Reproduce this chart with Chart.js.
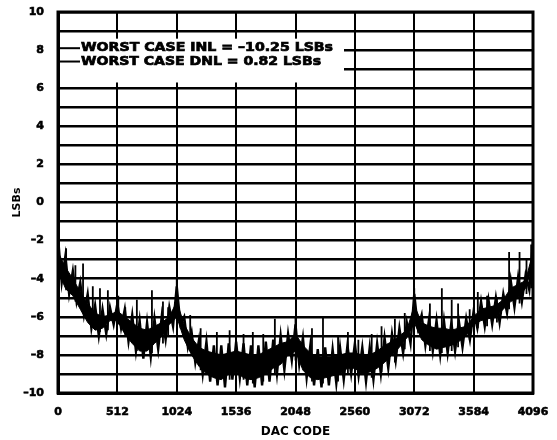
<!DOCTYPE html>
<html>
<head>
<meta charset="utf-8">
<script src="https://cdn.jsdelivr.net/npm/chart.js@4.4.1/dist/chart.umd.min.js"></script>
<style>
  body { margin: 0; background: #fff; }
  canvas { display: block; }
</style>
</head>
<body>
<canvas id="inl-chart" width="557" height="440"></canvas>
<script>
// INL readings, one every 32 codes, alternating top / bottom of the noise band
const codeStep = 32;
const inl = [
  -1.8, -4.2, -2.8, -4.8, -3.6, -5.2, -4.2, -5.9, -4.8, -6.6, -5.4, -7.0, -5.6, -6.9, -5.5, -6.4,
  -5.3, -6.6, -5.6, -7.3, -5.9, -7.8, -6.2, -8.2, -6.3, -8.1, -6.1, -7.7, -5.9, -7.2, -5.5, -6.5,
  -4.4, -6.4, -6.0, -7.6, -6.8, -8.4, -7.2, -9.0, -7.3, -9.4, -7.5, -9.6, -7.5, -9.7, -7.4, -9.3,
  -7.3, -9.2, -7.4, -9.6, -7.5, -9.7, -7.5, -9.6, -7.3, -9.4, -7.2, -9.0, -7.0, -8.8, -6.9, -8.3,
  -6.4, -8.5, -7.1, -9.2, -7.5, -9.6, -7.7, -9.7, -7.6, -9.6, -7.7, -9.5, -7.6, -9.3, -7.5, -9.0,
  -7.4, -9.1, -7.6, -9.4, -7.6, -9.3, -7.4, -9.0, -7.1, -8.7, -6.9, -8.3, -6.6, -7.9, -6.3, -7.4,
  -4.8, -6.6, -5.9, -7.5, -6.1, -7.8, -6.2, -8.0, -6.2, -7.9, -6.3, -7.8, -6.2, -7.6, -6.1, -7.2,
  -5.7, -6.6, -5.2, -6.5, -5.1, -6.4, -5.0, -6.3, -4.8, -5.8, -4.1, -5.5, -3.9, -5.2, -3.8, -4.6,
  -2.0
];
const codes = inl.map((_, i) => i * codeStep);

// solid core of the noise band, one reading every 64 codes
const bandStep = 64;
const bandHi = [
  -2.6, -3.4, -4.0, -4.7, -5.3, -5.8, -6.0, -5.9, -5.7, -6.0, -6.3, -6.6, -6.7, -6.5, -6.3, -6.0,
  -5.2, -6.4, -7.1, -7.6, -7.8, -7.9, -8.0, -7.9, -7.8, -7.9, -8.0, -8.0, -7.8, -7.6, -7.4, -7.3,
  -6.9, -7.5, -7.9, -8.1, -8.1, -8.1, -8.0, -7.9, -7.9, -8.0, -8.0, -7.8, -7.5, -7.3, -7.0, -6.7,
  -5.4, -6.3, -6.5, -6.6, -6.6, -6.7, -6.6, -6.5, -6.0, -5.6, -5.5, -5.4, -5.1, -4.5, -4.3, -4.1,
  -2.6
];
const bandLo = [
  -3.6, -4.5, -4.9, -5.6, -6.3, -6.7, -6.6, -6.2, -6.2, -6.9, -7.4, -7.8, -7.8, -7.4, -7.0, -6.4,
  -6.0, -7.2, -8.0, -8.6, -9.0, -9.2, -9.3, -9.0, -8.9, -9.2, -9.3, -9.2, -9.0, -8.7, -8.5, -8.0,
  -7.8, -8.8, -9.2, -9.3, -9.2, -9.1, -9.0, -8.7, -8.7, -9.0, -8.9, -8.7, -8.4, -8.0, -7.6, -7.1,
  -6.3, -7.2, -7.5, -7.7, -7.6, -7.5, -7.3, -7.0, -6.4, -6.2, -6.1, -6.0, -5.6, -5.2, -5.0, -4.5,
  -3.2
];

// tall glitches sticking out of the band
const spikeCodes = [70, 150, 216, 300, 362, 430, 520, 580, 680, 810, 905, 950, 1024, 1140, 1230,
  1370, 1480, 1600, 1680, 1770, 1870, 2048, 2190, 2285, 2415, 2500, 2590, 2705, 2790, 2905, 2990,
  3072, 3207, 3310, 3395, 3450, 3550, 3620, 3700, 3785, 3890, 3980, 4040, 4080];
const spikeTops = [-2.4, -3.3, -3.2, -4.4, -4.5, -4.6, -4.9, -5.5, -5.1, -4.6, -5.2, -5.5, -4.0, -5.9, -6.6,
  -6.8, -6.7, -6.9, -6.8, -6.9, -6.1, -6.0, -6.6, -6.0, -7.0, -6.8, -7.2, -6.9, -6.5, -6.1, -5.8,
  -4.5, -5.3, -4.5, -5.1, -5.3, -5.6, -4.7, -4.9, -5.0, -2.6, -2.6, -3.0, -2.2];
const spikeBases = [-4.6, -5.2, -5.8, -6.5, -6.8, -6.7, -6.4, -7.0, -7.8, -7.9, -7.4, -7.0, -6.2, -7.8, -8.8,
  -9.4, -9.3, -9.3, -9.5, -9.4, -9.0, -8.3, -9.4, -9.5, -9.4, -9.0, -9.1, -9.2, -8.9, -8.4, -7.7,
  -6.5, -7.8, -7.9, -7.8, -7.6, -7.2, -6.6, -6.5, -6.3, -5.6, -5.3, -4.8, -4.5];

const xTicks = [0, 512, 1024, 1536, 2048, 2560, 3072, 3584, 4096];
const notes = ["WORST CASE INL = \u201310.25 LSBs", "WORST CASE DNL = 0.82 LSBs"];

const tickFont = { family: "DejaVu Sans", size: 11, weight: "bold" };

let inlPoints = codes.map((c, i) => ({ x: c, y: inl[i] }));
let hiPoints = bandHi.map((v, i) => ({ x: i * bandStep, y: v }));
let loPoints = bandLo.map((v, i) => ({ x: i * bandStep, y: v }));
let spikePoints = [];
spikeCodes.forEach((c, i) => {
  spikePoints.push({ x: c, y: spikeBases[i] });
  spikePoints.push({ x: c, y: spikeTops[i] });
  spikePoints.push({ x: c, y: null });
});

// white box with the two notes, plus the heavy frame
const boxPlugin = {
  id: "notesBox",
  afterDraw(chart) {
    const ctx = chart.ctx;
    const area = chart.chartArea;
    const y = chart.scales.y;
    ctx.save();
    ctx.fillStyle = "#fff";
    ctx.fillRect(area.left + 2, y.getPixelForValue(8.6), 342 - area.left, y.getPixelForValue(6.3) - y.getPixelForValue(8.6));

    ctx.font = "bold 12px 'DejaVu Sans'";
    ctx.fillStyle = "#000";
    ctx.strokeStyle = "#000";
    ctx.textBaseline = "middle";
    const rows = [y.getPixelForValue(8.1), y.getPixelForValue(7.4)];
    const widths = [252, 240];
    notes.forEach((t, i) => {
      ctx.lineWidth = 2;
      ctx.beginPath();
      ctx.moveTo(area.left, rows[i]);
      ctx.lineTo(80, rows[i]);
      ctx.stroke();
      const w = ctx.measureText(t).width;
      ctx.save();
      ctx.translate(81, rows[i]);
      ctx.scale(widths[i] / w, 1);
      ctx.lineWidth = 0.7;
      ctx.fillText(t, 0, 0);
      ctx.strokeText(t, 0, 0);
      ctx.restore();
    });

    ctx.lineWidth = 3;
    ctx.strokeRect(area.left, area.top, area.right - area.left, area.bottom - area.top);
    ctx.restore();
  }
};

new Chart(document.getElementById("inl-chart"), {
  type: "line",
  data: {
    datasets: [
      {
        label: "band top",
        data: hiPoints,
        borderColor: "#000",
        borderWidth: 1,
        backgroundColor: "#000",
        pointRadius: 0,
        fill: "+1"
      },
      {
        label: "band bottom",
        data: loPoints,
        borderColor: "#000",
        borderWidth: 1,
        pointRadius: 0,
        fill: false
      },
      {
        label: "INL",
        data: inlPoints,
        borderColor: "#000",
        borderWidth: 2.4,
        pointRadius: 0,
        tension: 0,
        fill: false
      },
      {
        label: "spikes",
        data: spikePoints,
        borderColor: "#000",
        borderWidth: 1.8,
        pointRadius: 0,
        spanGaps: false,
        fill: false
      }
    ]
  },
  options: {
    responsive: false,
    animation: false,
    layout: { padding: { top: 12, right: 24, left: 0, bottom: 0 } },
    plugins: { legend: { display: false }, tooltip: { enabled: false } },
    scales: {
      x: {
        type: "linear",
        min: 0,
        max: 4096,
        afterFit: (scale) => {
          scale.height = 47;
          scale.paddingLeft = 0;
          scale.paddingRight = 0;
        },
        afterBuildTicks: (scale) => {
          scale.ticks = xTicks.map(v => ({ value: v }));
        },
        grid: { color: "#000", lineWidth: 2, drawTicks: false },
        border: { color: "#000", width: 3 },
        ticks: { color: "#000", font: tickFont, padding: 13, maxRotation: 0, autoSkip: false,
          textStrokeColor: "#000", textStrokeWidth: 0.6,
          callback: (v) => String(v) },
        title: { display: true, text: "DAC CODE", color: "#000",
          font: { family: "DejaVu Sans", size: 12, weight: "bold" }, padding: { top: 0, bottom: 1 } }
      },
      y: {
        min: -10,
        max: 10,
        afterFit: (scale) => {
          scale.width = 58;
          scale.paddingTop = 0;
          scale.paddingBottom = 0;
        },
        grid: { color: "#000", lineWidth: 2.5, drawTicks: false },
        border: { color: "#000", width: 3 },
        ticks: { stepSize: 1, color: "#000", font: tickFont, padding: 14, autoSkip: false,
          textStrokeColor: "#000", textStrokeWidth: 0.6,
          callback: (v) => (v % 2 === 0 ? (v < 0 ? "\u2013" + Math.abs(v) : String(v)) : "") },
        title: { display: true, text: "LSBs", color: "#000",
          font: { family: "DejaVu Sans", size: 11, weight: "bold" }, padding: { top: 11, bottom: 0 } }
      }
    }
  },
  plugins: [boxPlugin]
});
</script>
</body>
</html>
